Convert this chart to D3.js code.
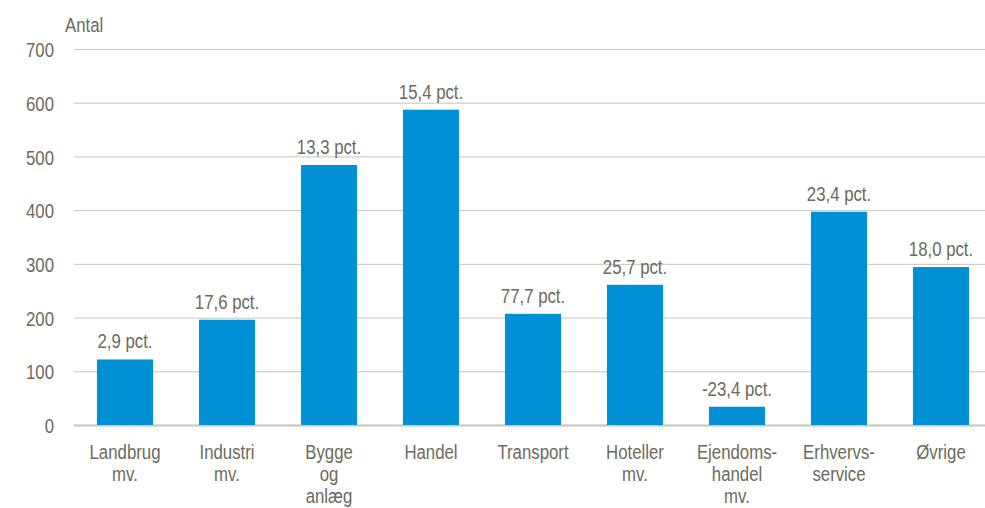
<!DOCTYPE html>
<html>
<head>
<meta charset="utf-8">
<script src="https://cdn.jsdelivr.net/npm/d3@7"></script>
<style>
  body { margin: 0; background: #fff; overflow: hidden; }
  svg { display: block; }
  text { font-family: "Liberation Sans", Arial, sans-serif; fill: #6b6b5c; }
</style>
</head>
<body>
<div id="chart"></div>
<script>
// Data
var categories = ["Landbrug mv.", "Industri mv.", "Bygge og anlæg", "Handel", "Transport", "Hoteller mv.", "Ejendoms- handel mv.", "Erhvervs- service", "Øvrige"];
var categoryLines = [["Landbrug", "mv."], ["Industri", "mv."], ["Bygge", "og", "anlæg"], ["Handel"], ["Transport"], ["Hoteller", "mv."], ["Ejendoms-", "handel", "mv."], ["Erhvervs-", "service"], ["Øvrige"]];
var values = [122, 196, 484, 587, 207, 261, 34, 397, 294];
var changeLabels = ["2,9 pct.", "17,6 pct.", "13,3 pct.", "15,4 pct.", "77,7 pct.", "25,7 pct.", "-23,4 pct.", "23,4 pct.", "18,0 pct."];
var yTicks = [0, 100, 200, 300, 400, 500, 600, 700];

var svgWidth = 985;
var svgHeight = 508;

// narrow look: regular font squeezed horizontally
var squeeze = 0.8;
var fontSize = "21px";

// plot runs past the right edge of the picture, like the reference
var chartMargin = { top: 49, right: -7, bottom: 83, left: 74 };
var chartWidth = svgWidth - chartMargin.left - chartMargin.right;
var chartHeight = svgHeight - chartMargin.top - chartMargin.bottom;

var svg = d3.select("#chart")
  .append("svg")
  .attr("width", svgWidth)
  .attr("height", svgHeight);

var chartGroup = svg.append("g")
  .attr("transform", `translate(${chartMargin.left}, ${chartMargin.top})`);

var xScale = d3.scaleBand()
  .domain(categories)
  .range([0, chartWidth])
  .paddingInner(0.45)
  .paddingOuter(0.225);

var yScale = d3.scaleLinear()
  .domain([0, 700])
  .range([chartHeight, 0]);

// gridlines + y labels
var leftAxis = d3.axisLeft(yScale)
  .tickValues(yTicks)
  .tickSize(-chartWidth);

var yAxis = chartGroup.append("g").call(leftAxis);
yAxis.select(".domain").remove();
yAxis.selectAll("line")
  .attr("stroke", "#c6c6bc")
  .attr("stroke-width", d => d === 0 ? 2 : 1);
yAxis.selectAll("text")
  .attr("x", -20 / squeeze)
  .attr("dy", "0.36em")
  .attr("transform", `scale(${squeeze},1)`)
  .attr("font-size", fontSize)
  .style("font-family", null)
  .attr("fill", "#6b6b5c");
yAxis.attr("font-family", null).attr("font-size", null);

svg.append("text")
  .attr("transform", `translate(65, 32) scale(${squeeze},1)`)
  .attr("font-size", fontSize)
  .text("Antal");

// bars
chartGroup.selectAll("rect")
  .data(values)
  .enter()
  .append("rect")
  .attr("x", (d, i) => xScale(categories[i]))
  .attr("y", d => yScale(d))
  .attr("width", xScale.bandwidth())
  .attr("height", d => chartHeight - yScale(d))
  .attr("fill", "#0090d5");

// value labels
chartGroup.selectAll(".barLabel")
  .data(values)
  .enter()
  .append("text")
  .attr("class", "barLabel")
  .attr("transform", (d, i) => `translate(${xScale(categories[i]) + xScale.bandwidth() / 2}, ${yScale(d) - 11}) scale(${squeeze},1)`)
  .attr("text-anchor", "middle")
  .attr("font-size", fontSize)
  .text((d, i) => changeLabels[i]);

// category labels
var catGroup = chartGroup.selectAll(".catLabel")
  .data(categoryLines)
  .enter()
  .append("text")
  .attr("class", "catLabel")
  .attr("text-anchor", "middle")
  .attr("font-size", fontSize)
  .attr("transform", (d, i) => `translate(${xScale(categories[i]) + xScale.bandwidth() / 2}, ${chartHeight + 34}) scale(${squeeze},1)`);

catGroup.selectAll("tspan")
  .data(d => d)
  .enter()
  .append("tspan")
  .attr("x", 0)
  .attr("dy", (d, i) => i === 0 ? 0 : 22)
  .text(d => d);
</script>
</body>
</html>
